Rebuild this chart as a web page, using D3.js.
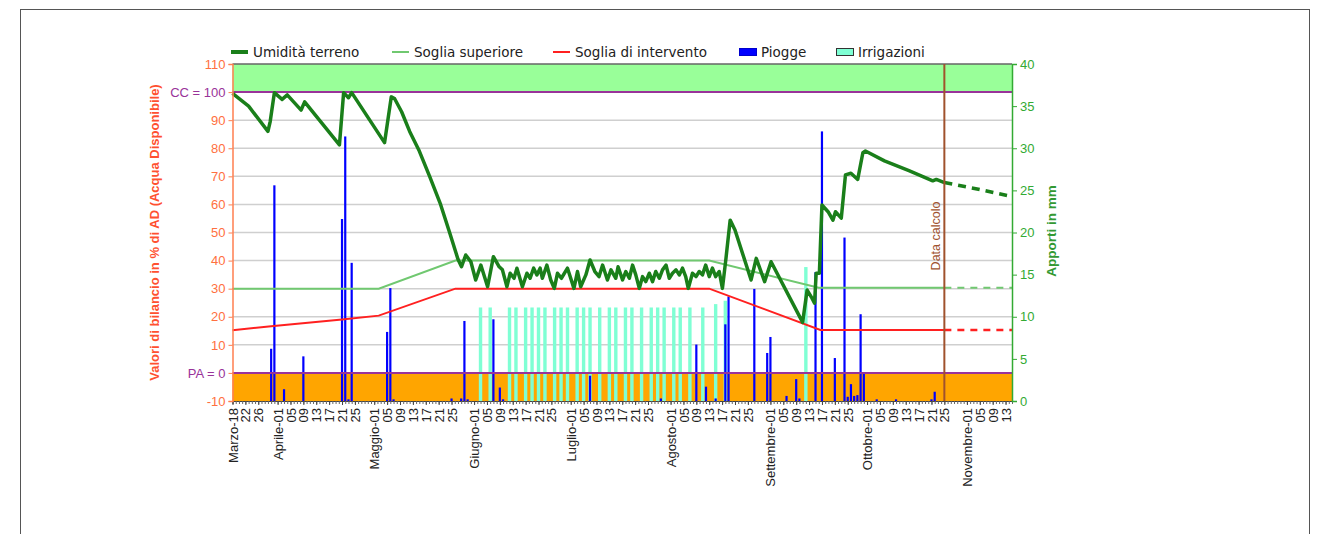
<!DOCTYPE html>
<html>
<head>
<meta charset="utf-8">
<script src="https://cdn.jsdelivr.net/npm/d3@7"></script>
<style>
body{margin:0;background:#fff;}
</style>
</head>
<body>
<div id="chart"></div>
<script>
(function(){

const width = 1320;
const height = 534;
const margin = {top:64,right:308,bottom:133,left:232.5};

// day offsets are counted from 18 March
const startUTC = Date.UTC(2021,2,18);
const endDay = 242;
const calcDay = 221;

const monthNames = ["Marzo","Aprile","Maggio","Giugno","Luglio","Agosto","Settembre","Ottobre","Novembre"];
const tickDays = [1,5,9,13,17,21,25];
const firstMonthTickDays = [18,22,26];
const lastMonthTickDays = [1,5,9,13];

const leftTicks = [-10,0,10,20,30,40,50,60,70,80,90,100,110];
const rightTicks = [0,5,10,15,20,25,30,35,40];

// Umidità terreno (% AD): [day, value]
const umidita = [
[0,99.5],[5,95],[11,86],[11.7,89.5],[13,99.8],[15.4,97.4],[17,99],[21.3,93.6],[22.4,96.5],
[33.2,81.2],[34.5,99.8],[36,98],[37,99.8],[47.2,82],[49.3,98.3],[50.3,97.7],[52.5,93],[55,86],
[58,79],[61.2,70],[64.6,60],[67.4,50],[70,40.5],[71.1,37.8],[72.4,42],[74,39.6],[75.5,33.1],
[77.1,38.4],[79.2,30.7],[81,41.4],[82.8,37.8],[83.8,36.7],[85.2,30.7],[86.2,35.5],[87.4,33.7],
[88.3,37.3],[90,30.7],[91.4,35.5],[92.4,33.7],[93.5,37.3],[94.5,34.9],[95.5,37.3],[96.2,33.7],
[97.6,38.4],[98.8,33.1],[99.9,30.1],[100.9,35.5],[102.1,33.7],[104,37.3],[105,33.7],[106,30.1],
[107.1,36.1],[108.1,30.7],[109.7,34.9],[111,40.2],[112.5,36.1],[113.8,34.3],[114.9,38.4],
[116.4,33.1],[117.5,36.7],[119,33.7],[119.7,37.8],[121.1,33.1],[122.1,36.1],[123.2,33.7],
[124.2,38.4],[125.2,34.9],[126.3,30.1],[127.3,34.3],[128.3,32.5],[129.4,35.5],[130.4,32.5],
[131.4,36.1],[132.5,33.7],[133.5,36.7],[134.6,38.4],[135.6,33.7],[136.6,35.5],[137.7,36.7],
[138.7,34.9],[139.7,37.3],[140.7,34.3],[141.5,30.1],[142.8,35.5],[143.9,34.3],[144.9,36.1],
[145.9,34.9],[146.9,38.4],[148,34.3],[149,37.3],[150,34.3],[151.1,36.1],[152.1,30.1],[153.2,40.8],
[154.5,54.4],[156,50.9],[161,33.1],[162.6,40.8],[165.2,32.5],[167.2,39.6],[177,18],
[178.4,29.5],[179.9,26.6],[180.7,24.8],[181.2,35.5],[182.2,35.5],[183,59.8],[184.9,57.4],
[186.4,54.4],[187.2,57.4],[189,55.1],[190.3,70.5],[192,71.1],[194.1,68.9],[195.7,78.4],
[196.5,79],[202.4,75.5],[210,72],[217.4,68.4],[218.5,68.9],[221,67.8]
];
// previsione dopo la data di calcolo
const umiditaPrev = [[221,67.8],[232,65.3],[242,62.8]];

const sogliaSup = [[0,30],[45.4,30],[69.2,40],[148,40],[182,30.3],[221,30.3]];
const sogliaSupPrev = [[221,30.3],[242,30.3]];
const sogliaInt = [[0,15.2],[12,16.6],[34,19],[45.4,20.4],[69.2,30],[148,30],[182.5,15.3],[221,15.3]];
const sogliaIntPrev = [[221,15.3],[242,15.3]];

// Piogge (mm): [day, mm]
const piogge = [
[12,6.2],[13,25.6],[16,1.4],[22,5.3],[34,21.6],[35,31.4],[36,0.2],[37,16.4],[48,8.2],[49,13.4],
[50,0.2],[68,0.3],[71,0.3],[72,9.5],[73,0.2],[81,9.7],[83,1.6],[84,0.2],[111,3.0],[133,0.3],
[144,6.7],[147,1.7],[150,0.3],[153,9.1],[154,12.4],[162,13.3],[166,5.7],[167,7.6],[172,0.6],
[175,2.6],[176,0.3],[181,15.3],[183,32],[187,5.1],[190,19.4],[191,0.5],[192,2.0],[193,0.6],
[194,0.7],[195,10.3],[196,3.3],[200,0.2],[206,0.2],[217,0.2],[218,1.1]
];

// Irrigazioni (mm): [day, mm]
const irrigazioni = [
[77,11.1],[80,11.1],[86,11.1],[88,11.1],[91,11.1],[93,11.1],[95,11.1],[97,11.1],[100,11.1],
[102,11.1],[104,11.1],[107,11.1],[109,11.1],[111,11.1],[114,11.1],[117,11.1],[119,11.1],
[122,11.1],[124,11.1],[127,11.1],[130,11.1],[132,11.1],[134,11.1],[137,11.1],[139,11.1],
[142,11.1],[146,11.1],[150,11.5],[153,11.9],[178,15.9]
];

const svg = d3.select("#chart")
.append("svg")
.attr("width",width)
.attr("height",height)
.style("font-family","'Liberation Sans', Arial, sans-serif");

const x0 = margin.left, x1 = width-margin.right;
const yTop = margin.top, yBot = height-margin.bottom;

const x = d3.scaleLinear().domain([0,endDay]).range([x0,x1]);
const yL = d3.scaleLinear().domain([-10,110]).range([yBot,yTop]);
const yR = d3.scaleLinear().domain([0,40]).range([yBot,yTop]);

// outer frame
svg.append("rect")
.attr("x",20.5).attr("y",9.5)
.attr("width",1289).attr("height",540)
.attr("fill","none").attr("stroke","#555").attr("stroke-width",1);

// bands
svg.append("rect")
.attr("x",x0).attr("y",yL(110))
.attr("width",x1-x0).attr("height",yL(100)-yL(110))
.attr("fill","#99ff99");
svg.append("rect")
.attr("x",x0).attr("y",yL(0))
.attr("width",x1-x0).attr("height",yL(-10)-yL(0))
.attr("fill","#ffa500");

// grid
svg.append("g")
.selectAll("line")
.data(leftTicks.filter(v=>v>0 && v<100))
.join("line")
.attr("x1",x0).attr("x2",x1)
.attr("y1",d=>yL(d)).attr("y2",d=>yL(d))
.attr("stroke","#cfcfcf").attr("stroke-width",1.5);

// irrigazioni
svg.append("g")
.selectAll("rect")
.data(irrigazioni)
.join("rect")
.attr("x",d=>x(d[0])-1.7)
.attr("width",3.4)
.attr("y",d=>yR(d[1]))
.attr("height",d=>yR(0)-yR(d[1]))
.attr("fill","#7fffd4");

// piogge
svg.append("g")
.selectAll("rect")
.data(piogge)
.join("rect")
.attr("x",d=>x(d[0])-1.1)
.attr("width",2.2)
.attr("y",d=>yR(d[1]))
.attr("height",d=>yR(0)-yR(d[1]))
.attr("fill","#0000ff");

// CC / PA lines
[100,0].forEach(v=>{
svg.append("line")
.attr("x1",x0).attr("x2",x1)
.attr("y1",yL(v)).attr("y2",yL(v))
.attr("stroke","#993399").attr("stroke-width",2);
});

// top border
svg.append("line")
.attr("x1",x0).attr("x2",x1)
.attr("y1",yTop).attr("y2",yTop)
.attr("stroke","#666").attr("stroke-width",1.5);

const line = d3.line()
.x(d=>x(d[0]))
.y(d=>yL(d[1]));

// soglie
svg.append("path").datum(sogliaSup)
.attr("fill","none").attr("stroke","#70c870").attr("stroke-width",2).attr("d",line);
svg.append("path").datum(sogliaSupPrev)
.attr("fill","none").attr("stroke","#70c870").attr("stroke-width",2)
.attr("stroke-dasharray","7,6").attr("d",line);
svg.append("path").datum(sogliaInt)
.attr("fill","none").attr("stroke","#ff2020").attr("stroke-width",2).attr("d",line);
svg.append("path").datum(sogliaIntPrev)
.attr("fill","none").attr("stroke","#ff2020").attr("stroke-width",2.5)
.attr("stroke-dasharray","7,6").attr("d",line);

// umidità
svg.append("path").datum(umidita)
.attr("fill","none").attr("stroke","#1a7f1a").attr("stroke-width",3.5)
.attr("stroke-linejoin","round").attr("d",line);
svg.append("path").datum(umiditaPrev)
.attr("fill","none").attr("stroke","#1a7f1a").attr("stroke-width",3.5)
.attr("stroke-dasharray","8,6").attr("d",line);

// data calcolo
svg.append("line")
.attr("x1",x(calcDay)).attr("x2",x(calcDay))
.attr("y1",yTop).attr("y2",yBot)
.attr("stroke","#a0522d").attr("stroke-width",2);
svg.append("text")
.attr("transform",`translate(${x(calcDay)-4},236) rotate(-90)`)
.attr("text-anchor","middle")
.attr("font-size","12.5px")
.attr("fill","#a0522d")
.text("Data calcolo");

// x axis ticks
const xTicks = [];
monthNames.forEach((m,i)=>{
const days = i===0 ? firstMonthTickDays : (i===monthNames.length-1 ? lastMonthTickDays : tickDays);
days.forEach((d,j)=>{
const off = (Date.UTC(2021,2+i,d)-startUTC)/864e5;
xTicks.push({day:off,label:(j===0 ? m+"-" : "")+d3.format("02")(d)});
});
});

svg.append("g")
.attr("transform",`translate(0,${yBot})`)
.call(d3.axisBottom(x).tickValues(d3.range(0,endDay+1)).tickSize(3).tickFormat(""))
.call(g=>g.select(".domain").attr("stroke","#444"))
.call(g=>g.selectAll(".tick line").attr("stroke","#666"));

const labelByDay = new Map(xTicks.map(t=>[t.day,t.label]));
svg.append("g")
.attr("transform",`translate(0,${yBot})`)
.call(d3.axisBottom(x).tickValues(xTicks.map(t=>t.day)).tickSize(4).tickFormat(d=>labelByDay.get(d)))
.call(g=>g.select(".domain").remove())
.call(g=>g.selectAll(".tick line").attr("stroke","#444"))
.call(g=>g.selectAll("text")
.attr("transform","rotate(-90)")
.attr("x",-7).attr("y",0).attr("dy","0.35em")
.attr("text-anchor","end")
.attr("font-size","13px")
.attr("font-family","'Liberation Sans', Arial, sans-serif")
.attr("fill","#222"));

// left axis
svg.append("g")
.attr("transform",`translate(${x0},0)`)
.call(d3.axisLeft(yL).tickValues(leftTicks).tickSize(4)
.tickFormat(v=>v===100?"CC = 100":(v===0?"PA = 0":v)))
.call(g=>g.select(".domain").attr("stroke","#ff7f50").attr("stroke-width",1.5))
.call(g=>g.selectAll(".tick line").attr("stroke","#ff7f50"))
.call(g=>g.selectAll("text")
.attr("font-size","13px")
.attr("font-family","'Liberation Sans', Arial, sans-serif")
.attr("fill",d=>(d===100||d===0)?"#993399":"#ff7040"));

// right axis
svg.append("g")
.attr("transform",`translate(${x1},0)`)
.call(d3.axisRight(yR).tickValues(rightTicks).tickSize(5))
.call(g=>g.select(".domain").attr("stroke","#33aa33").attr("stroke-width",1.5))
.call(g=>g.selectAll(".tick line").attr("stroke","#33aa33"))
.call(g=>g.selectAll("text")
.attr("font-size","13px")
.attr("font-family","'Liberation Sans', Arial, sans-serif")
.attr("fill","#33aa33"));

// axis titles
svg.append("text")
.attr("transform",`translate(159,${(yTop+yBot)/2}) rotate(-90)`)
.attr("text-anchor","middle")
.attr("font-size","13px")
.attr("font-weight","bold")
.attr("fill","#ff5030")
.text("Valori di bilancio in % di AD (Acqua Disponibile)");

svg.append("text")
.attr("transform",`translate(1056,231) rotate(-90)`)
.attr("text-anchor","middle")
.attr("font-size","13.5px")
.attr("font-weight","bold")
.attr("fill","#339933")
.text("Apporti in mm");

// legend
const legend = svg.append("g")
.attr("font-family","'DejaVu Sans', Verdana, sans-serif")
.attr("font-size","13.5px")
.attr("fill","#222");

const legendItems = [
{label:"Umidità terreno",type:"line",color:"#1a7f1a",w:4,x:231},
{label:"Soglia superiore",type:"line",color:"#70c870",w:2,x:392},
{label:"Soglia di intervento",type:"line",color:"#ff2020",w:2,x:553},
{label:"Piogge",type:"rect",color:"#0000ff",x:739},
{label:"Irrigazioni",type:"rect",color:"#7fffd4",x:836}
];

legendItems.forEach(it=>{
if(it.type==="line"){
legend.append("line")
.attr("x1",it.x).attr("x2",it.x+17)
.attr("y1",52).attr("y2",52)
.attr("stroke",it.color).attr("stroke-width",it.w);
}else{
legend.append("rect")
.attr("x",it.x+0.5).attr("y",48.5)
.attr("width",17).attr("height",7)
.attr("fill",it.color)
.attr("stroke",it.color==="#0000ff"?"#0000cc":"#333");
}
legend.append("text")
.attr("x",it.x+22).attr("y",52)
.attr("dy","0.35em")
.text(it.label);
});

})();
</script>
</body>
</html>
